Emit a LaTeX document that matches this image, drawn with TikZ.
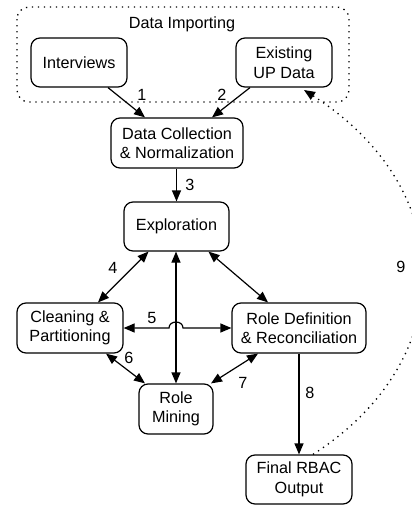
\documentclass[tikz,border=0pt]{standalone}
\usepackage{fontspec}
\setmainfont{Liberation Sans}
\usetikzlibrary{arrows.meta}
\tikzset{
  box/.style={draw, line width=1.2pt, rounded corners=9pt, align=center, inner sep=0pt,
    font=\fontsize{16.2}{19.5}\selectfont},
  lbl/.style={font=\fontsize{16.2}{19.5}\selectfont, inner sep=0pt},
  conn/.style={line width=1.2pt},
  tip/.tip={Triangle[length=11pt,width=9pt]},
  dotline/.style={line width=1.3pt, dash pattern=on 1.3pt off 4.7pt},
}
\begin{document}
\begin{tikzpicture}[x=1pt,y=-1pt]
\useasboundingbox (0,0) rectangle (412,506);
% container
\draw[dotline, rounded corners=12pt] (17,7) rectangle (349,102);
\node[lbl] (title) at (182,24) {Data Importing};
% boxes
\node[box, minimum width=96, minimum height=49] (int) at (79,62.5) {Interviews};
\node[box, minimum width=96, minimum height=49] (ex) at (284,62.5) {Existing\\UP Data};
\node[box, minimum width=132, minimum height=50] (dc) at (177,143) {Data Collection\\\& Normalization};
\node[box, minimum width=105, minimum height=49] (exp) at (176.5,226.5) {Exploration};
\node[box, minimum width=106, minimum height=50] (cl) at (70,328) {Cleaning \&\\Partitioning};
\node[box, minimum width=134, minimum height=50] (rd) at (299,328) {Role Definition\\\& Reconciliation};
\node[box, minimum width=74, minimum height=50] (rm) at (176,409) {Role\\Mining};
\node[box, minimum width=106, minimum height=49] (fin) at (299,479.5) {Final RBAC\\Output};
% connectors
\draw[conn, -tip] ([xshift=29pt]int.south) -- ([xshift=-32pt]dc.north);
\draw[conn, -tip] ([xshift=-34pt]ex.south) -- ([xshift=35pt]dc.north);
\draw[conn, -tip] ([xshift=-0.5pt]dc.south) -- (exp.north);
\draw[conn, tip-tip] ([xshift=-28pt]exp.south) -- ([xshift=28pt]cl.north);
\draw[conn, tip-tip] ([xshift=32pt]exp.south) -- ([xshift=-31pt]rd.north);
\draw[conn, tip-tip] ([xshift=-0.5pt]exp.south) -- (rm.north);
\draw[conn, tip-tip] (cl.east) -- (169,328) .. controls (169,320) and (183,320) .. (183,328) -- (rd.west);
\draw[conn, tip-tip] ([xshift=36pt]cl.south) -- ([xshift=-31pt]rm.north);
\draw[conn, tip-tip] ([xshift=-41pt]rd.south) -- ([xshift=35pt]rm.north);
\draw[conn, -tip] (rd.south) -- (fin.north);
\coordinate (back) at (304,90);
\begin{scope}
\clip (0,0) rectangle (412,506);
\draw[dotline, -tip] ([xshift=14pt]fin.north) .. controls (460,360) and (460,190) .. (back);
\end{scope}
% labels
\node[lbl] (l1) at (142,95) {1};
\node[lbl] (l2) at (222,95) {2};
\node[lbl] (l3) at (190,185) {3};
\node[lbl] (l4) at (113,268) {4};
\node[lbl] (l5) at (152,318) {5};
\node[lbl] (l6) at (129,358) {6};
\node[lbl] (l7) at (243,383) {7};
\node[lbl] (l8) at (310,393) {8};
\node[lbl] (l9) at (401,267) {9};
\end{tikzpicture}
\end{document}
